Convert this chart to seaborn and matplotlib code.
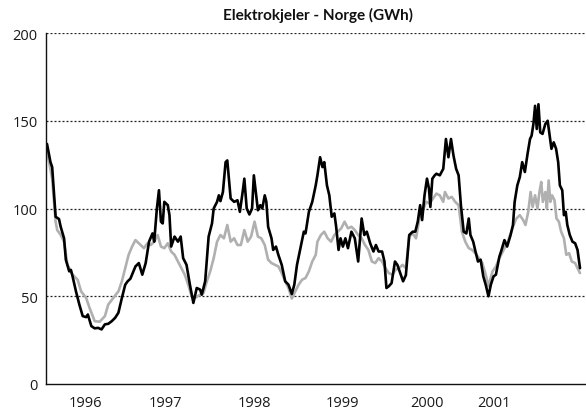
import numpy as np
import pandas as pd
import matplotlib
matplotlib.use("Agg")
import matplotlib.pyplot as plt
import seaborn as sns

# ---- data (time in decimal years, GWh) ----
black_t = [1996.081, 1996.116, 1996.133, 1996.150, 1996.168, 1996.202, 1996.219, 1996.253, 1996.271, 1996.305,
           1996.322, 1996.339, 1996.373, 1996.407, 1996.441, 1996.476, 1996.493, 1996.528, 1996.562, 1996.596,
           1996.631, 1996.665, 1996.699, 1996.734, 1996.768, 1996.801, 1996.836, 1996.870, 1996.894, 1996.922,
           1996.973, 1997.007, 1997.042, 1997.076, 1997.110, 1997.145, 1997.162, 1997.189, 1997.210, 1997.230,
           1997.248, 1997.264, 1997.299, 1997.316, 1997.333, 1997.367, 1997.402, 1997.429, 1997.454, 1997.488,
           1997.522, 1997.557, 1997.591, 1997.625, 1997.642, 1997.676, 1997.711, 1997.745, 1997.762, 1997.796,
           1997.814, 1997.830, 1997.855, 1997.882, 1997.899, 1997.933, 1997.968, 1998.002, 1998.026, 1998.054,
           1998.071, 1998.095, 1998.122, 1998.149, 1998.167, 1998.190, 1998.208, 1998.232, 1998.252, 1998.277,
           1998.293, 1998.311, 1998.345, 1998.362, 1998.390, 1998.414, 1998.448, 1998.483, 1998.516, 1998.550,
           1998.575, 1998.602, 1998.637, 1998.671, 1998.688, 1998.722, 1998.756, 1998.791, 1998.808, 1998.835,
           1998.859, 1998.877, 1998.904, 1998.928, 1998.952, 1998.979, 1998.997, 1999.021, 1999.041, 1999.065,
           1999.090, 1999.116, 1999.151, 1999.185, 1999.219, 1999.254, 1999.281, 1999.306, 1999.340, 1999.373,
           1999.398, 1999.425, 1999.460, 1999.484, 1999.504, 1999.528, 1999.556, 1999.590, 1999.614, 1999.648,
           1999.672, 1999.700, 1999.734, 1999.769, 1999.795, 1999.820, 1999.844, 1999.864, 1999.888, 1999.913,
           1999.933, 1999.947, 1999.967, 1999.991, 2000.008, 2000.042, 2000.077, 2000.104, 2000.129, 2000.155,
           2000.180, 2000.207, 2000.232, 2000.255, 2000.283, 2000.310, 2000.334, 2000.351, 2000.379, 2000.402,
           2000.427, 2000.454, 2000.481, 2000.505, 2000.533, 2000.557, 2000.584, 2000.608, 2000.643, 2000.660,
           2000.694, 2000.721, 2000.756, 2000.780, 2000.797, 2000.824, 2000.849, 2000.873, 2000.900, 2000.927,
           2000.952, 2000.968, 2000.986, 2001.003, 2001.020, 2001.037, 2001.055, 2001.078, 2001.106, 2001.130,
           2001.150, 2001.168, 2001.191, 2001.215, 2001.236, 2001.253, 2001.277, 2001.294, 2001.312, 2001.328,
           2001.353, 2001.380, 2001.407, 2001.431, 2001.456]
black_v = [136.8, 126.4, 123.6, 109.4, 95.3, 94.0, 89.6, 83.0, 70.8, 64.2,
           65.0, 61.3, 52.8, 45.3, 38.7, 38.1, 39.6, 33.0, 31.7, 32.0,
           31.1, 34.0, 34.3, 35.8, 37.7, 40.6, 49.0, 56.6, 58.5, 60.0,
           67.0, 68.9, 62.3, 68.9, 81.1, 85.8, 81.1, 100.0, 110.4, 92.5,
           91.5, 103.8, 101.9, 96.2, 78.3, 84.0, 81.1, 84.0, 71.7, 67.9,
           56.6, 46.2, 54.7, 53.8, 50.9, 58.5, 84.0, 91.5, 100.0, 103.8,
           107.5, 104.2, 109.4, 126.4, 127.4, 105.7, 103.8, 104.7, 98.1, 109.4,
           117.0, 100.0, 96.6, 100.0, 118.9, 107.5, 99.0, 101.9, 100.0, 107.5,
           103.8, 89.6, 83.0, 76.4, 78.3, 73.6, 67.9, 58.5, 56.6, 51.3,
           56.6, 67.9, 77.4, 86.8, 85.8, 98.1, 103.8, 113.2, 118.9, 129.2,
           123.6, 126.4, 113.2, 107.5, 95.3, 97.2, 89.6, 76.4, 83.0, 78.3,
           83.0, 77.4, 86.8, 83.0, 69.8, 94.3, 84.9, 86.8, 80.2, 75.5,
           79.2, 75.5, 75.5, 69.8, 54.7, 55.7, 57.5, 69.8, 67.9, 62.3,
           58.5, 62.0, 84.9, 86.8, 86.8, 92.5, 101.9, 93.4, 107.5, 117.0,
           111.3, 100.9, 117.0, 118.9, 119.8, 118.9, 122.6, 139.6, 129.2, 139.6,
           130.2, 122.6, 118.9, 101.9, 86.8, 85.8, 94.3, 84.9, 81.1, 75.5,
           69.8, 70.8, 61.3, 56.6, 50.0, 56.6, 61.3, 62.3, 72.6, 75.5,
           82.0, 78.3, 84.9, 90.6, 103.8, 113.2, 117.9, 126.4, 120.8, 131.1,
           139.6, 141.5, 148.1, 158.5, 145.3, 159.4, 143.4, 142.5, 148.1, 150.0,
           141.5, 134.0, 137.7, 134.0, 126.4, 113.2, 110.4, 96.2, 98.1, 90.6,
           84.9, 81.1, 80.2, 76.4, 66.0]

gray_t = [1996.081, 1996.133, 1996.168, 1996.184, 1996.219, 1996.253, 1996.287, 1996.339, 1996.390, 1996.425,
          1996.476, 1996.510, 1996.562, 1996.613, 1996.665, 1996.699, 1996.750, 1996.801, 1996.836, 1996.870,
          1996.904, 1996.939, 1996.973, 1997.025, 1997.059, 1997.094, 1997.128, 1997.162, 1997.197, 1997.230,
          1997.264, 1997.299, 1997.333, 1997.367, 1997.402, 1997.436, 1997.470, 1997.505, 1997.539, 1997.573,
          1997.625, 1997.659, 1997.693, 1997.727, 1997.762, 1997.796, 1997.830, 1997.865, 1997.899, 1997.933,
          1997.968, 1998.002, 1998.036, 1998.071, 1998.105, 1998.139, 1998.174, 1998.208, 1998.242, 1998.277,
          1998.311, 1998.345, 1998.380, 1998.414, 1998.448, 1998.483, 1998.516, 1998.550, 1998.585, 1998.619,
          1998.653, 1998.688, 1998.722, 1998.756, 1998.791, 1998.808, 1998.843, 1998.877, 1998.911, 1998.946,
          1998.979, 1999.013, 1999.048, 1999.082, 1999.116, 1999.151, 1999.185, 1999.219, 1999.254, 1999.288,
          1999.322, 1999.357, 1999.391, 1999.425, 1999.460, 1999.494, 1999.528, 1999.563, 1999.597, 1999.631,
          1999.666, 1999.700, 1999.734, 1999.769, 1999.802, 1999.836, 1999.871, 1999.905, 1999.939, 1999.974,
          2000.008, 2000.042, 2000.077, 2000.094, 2000.129, 2000.163, 2000.197, 2000.232, 2000.265, 2000.299,
          2000.334, 2000.368, 2000.402, 2000.437, 2000.471, 2000.505, 2000.533, 2000.574, 2000.608, 2000.643,
          2000.677, 2000.728, 2000.780, 2000.814, 2000.849, 2000.883, 2000.906, 2000.934, 2000.958, 2000.978,
          2001.003, 2001.027, 2001.047, 2001.065, 2001.081, 2001.106, 2001.122, 2001.140, 2001.157, 2001.174,
          2001.199, 2001.219, 2001.243, 2001.266, 2001.294, 2001.318, 2001.346, 2001.373, 2001.407, 2001.431,
          2001.456]
gray_v = [133.0, 117.0, 92.5, 87.7, 85.0, 81.0, 68.0, 62.3, 59.4, 52.8,
          49.0, 43.4, 35.8, 35.5, 38.7, 45.3, 49.0, 52.8, 58.5, 66.0,
          73.6, 78.3, 82.0, 79.2, 77.4, 80.2, 79.2, 81.1, 84.9, 78.3,
          77.4, 80.2, 75.5, 73.6, 69.8, 66.0, 62.3, 56.6, 50.0, 49.0,
          50.9, 51.9, 58.5, 64.2, 71.7, 81.1, 84.9, 83.0, 90.6, 81.1,
          83.0, 79.2, 79.2, 87.7, 81.1, 84.0, 92.5, 84.0, 83.0, 79.2,
          70.8, 68.9, 67.9, 67.0, 63.2, 58.5, 54.7, 48.7, 52.8, 56.6,
          59.4, 60.4, 64.2, 69.8, 73.6, 81.1, 84.9, 86.8, 83.0, 81.1,
          84.9, 86.8, 88.7, 92.5, 88.7, 89.6, 87.7, 84.9, 83.0, 79.2,
          76.4, 69.8, 68.9, 71.7, 69.8, 66.0, 63.2, 62.3, 65.0, 66.0,
          67.9, 66.0, 84.0, 85.8, 83.0, 94.3, 99.0, 103.8, 102.8, 105.7,
          108.5, 107.5, 103.8, 109.4, 105.7, 106.6, 103.8, 101.9, 86.8, 81.1,
          77.4, 76.4, 74.5, 71.7, 68.9, 62.3, 55.7, 64.2, 67.0, 71.7,
          75.5, 81.1, 89.6, 94.3, 96.2, 93.4, 90.6, 98.1, 109.4, 100.9,
          107.5, 100.0, 109.4, 115.1, 103.8, 109.4, 100.0, 116.0, 103.8, 107.5,
          104.7, 94.3, 92.5, 86.8, 83.0, 73.6, 74.5, 69.8, 68.9, 66.0,
          63.2]

year_labels = ["1996", "1997", "1998", "1999", "2000", "2001"]
y_ticks = [0, 50, 100, 150, 200]
title = "Elektrokjeler - Norge (GWh)"

df = pd.concat([
    pd.DataFrame({"tid": gray_t, "gwh": gray_v, "serie": "b"}),
    pd.DataFrame({"tid": black_t, "gwh": black_v, "serie": "a"}),
], ignore_index=True)

sns.set_theme(style="white")
plt.rcParams["font.family"] = ["Open Sans", "DejaVu Sans"]

W, H = 586, 414
fig = plt.figure(figsize=(W / 100, H / 100), dpi=100)
L, R, B, T = 46, 586, 385, 34
ax = fig.add_axes([L / W, 1 - B / H, (R - L) / W, (B - T) / H])

sns.lineplot(data=df, x="tid", y="gwh", hue="serie", hue_order=["b", "a"],
             palette={"a": "#000000", "b": "#b0b0b0"}, estimator=None, sort=True,
             linewidth=1.9, legend=False, ax=ax)

# x range: first sample sits at the spine, last just before the right edge
first_px, last_px = 47, 580
pxyr = (last_px - first_px) / (black_t[-1] - black_t[0])
x0 = black_t[0] - (first_px - L) / pxyr
x1 = black_t[-1] + (R - last_px) / pxyr
ax.set_xlim(x0, x1)
ax.set_ylim(0, 200)

def px_to_x(px):
    return x0 + (px - L) / pxyr

for v in y_ticks[1:]:
    ax.axhline(v, color="#222222", lw=0.9, ls=(0, (1.6, 1.6)), zorder=0)

ax.set_yticks(y_ticks)
ax.set_yticklabels([str(v) for v in y_ticks])
ax.tick_params(axis="y", length=0, pad=6, labelsize=10.5, labelcolor="#1a1a1a")

# separator ticks and centred year labels (as placed in the original)
tick_px = [126, 212, 300, 386, 472]
label_px = [85, 165, 254, 342, 427, 494]
ax.set_xticks([px_to_x(p) for p in tick_px])
ax.set_xticklabels([])
ax.tick_params(axis="x", which="major", direction="in", length=7, width=1, color="#111111")
ax.set_xticks([px_to_x(p) for p in label_px], minor=True)
ax.set_xticklabels(year_labels, minor=True)
ax.tick_params(axis="x", which="minor", length=0, pad=8, labelsize=10.5, labelcolor="#1a1a1a")

ax.set_xlabel("")
ax.set_ylabel("")
for s in ["top", "right"]:
    ax.spines[s].set_visible(False)
for s in ["left", "bottom"]:
    ax.spines[s].set_color("#111111")
    ax.spines[s].set_linewidth(1.0)

fig.text(318 / W, 1 - 20 / H, title, ha="center", va="baseline",
         fontsize=11, fontweight="bold", color="#111111",
         family=["Lato", "DejaVu Sans"])

fig.savefig("out.png", dpi=100)
